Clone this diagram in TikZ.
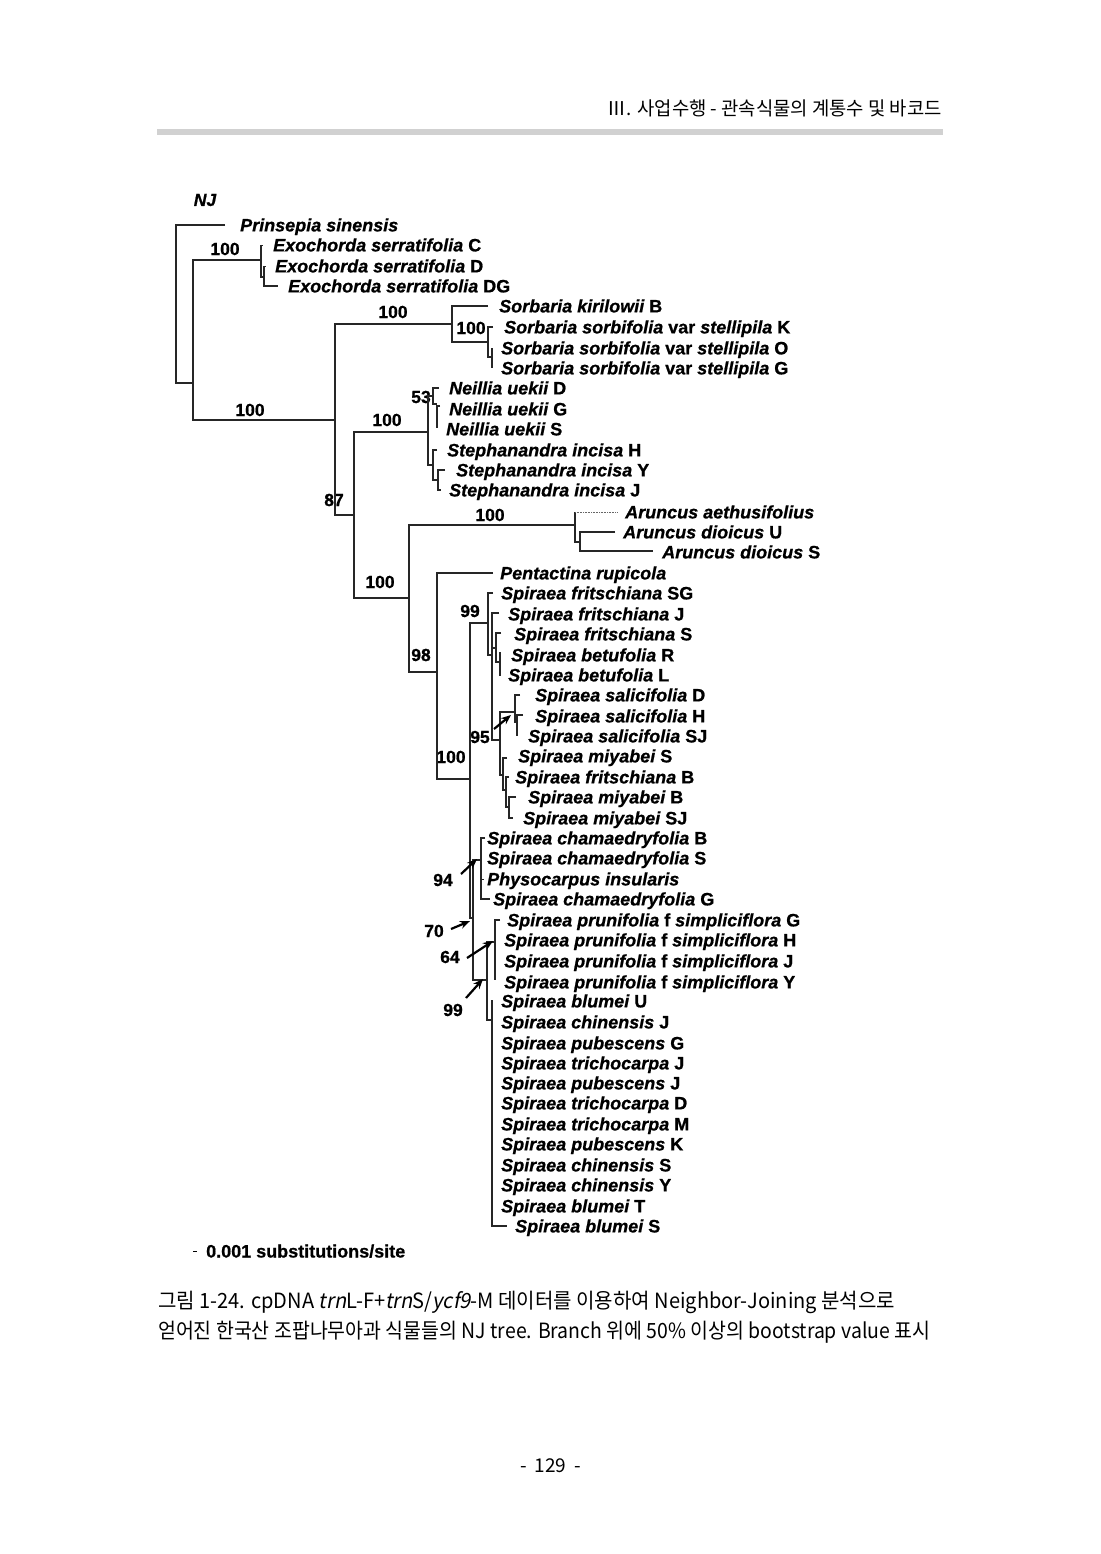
\documentclass[tikz,border=0pt]{standalone}
\usepackage{fontspec}
\usepackage{graphicx}
\setmainfont{Liberation Sans}[BoldFeatures={FakeBold=0.8},BoldItalicFeatures={FakeBold=0.8}]
\newfontfamily\kr{Noto Sans CJK KR}
\newfontfamily\krit{Noto Sans CJK KR}[FakeSlant=0.2]
\usetikzlibrary{arrows.meta}
\newcommand\tip[4]{\node[tipl] (#1) at (#2,#3+6.4) {#4};}
\newcommand\bsv[3]{\node[bsl] at (#1,#2) {#3};}
\newcommand\spn[1]{{\itshape #1}}
\begin{document}
\begin{tikzpicture}[x=1pt,y=-1pt,
  br/.style={line width=1.4pt, black!85},
  tk/.style={line width=0.9pt, black!85},
  arr/.style={line width=2.2pt, -{Stealth[length=10pt,width=8pt]}},
  tipl/.style={anchor=base west, inner sep=0pt, font=\fontsize{18}{18}\selectfont\bfseries},
  bsl/.style={inner sep=0pt, font=\fontsize{17.5}{17.5}\selectfont\bfseries}]
\fill[white] (0,0) rectangle (1100,1554);
\useasboundingbox (0,0) rectangle (1100,1554);
% header
\node[anchor=base east, inner sep=0pt] (hdr) at (942,116) {\resizebox{334pt}{\height}{\kr\fontsize{19}{19}\selectfont Ⅲ. 사업수행 - 관속식물의 계통수 및 바코드}};
\fill[black!18] (157,129) rectangle (943,135);
% NJ
\node[bsl, font=\fontsize{17.5}{17.5}\selectfont\bfseries\itshape] (nj) at (205,200) {NJ};
% tips
\tip{prin}{240}{225}{\spn{Prinsepia sinensis}}
\tip{exoC}{273}{245}{\spn{Exochorda serratifolia} C}
\tip{exoD}{275}{266}{\spn{Exochorda serratifolia} D}
\tip{exoDG}{288}{286}{\spn{Exochorda serratifolia} DG}
\tip{sorB}{499}{306}{\spn{Sorbaria kirilowii} B}
\tip{sorK}{504}{327}{\spn{Sorbaria sorbifolia} var \spn{stellipila} K}
\tip{sorO}{501}{348}{\spn{Sorbaria sorbifolia} var \spn{stellipila} O}
\tip{sorG}{501}{368}{\spn{Sorbaria sorbifolia} var \spn{stellipila} G}
\tip{neiD}{449}{388}{\spn{Neillia uekii} D}
\tip{neiG}{449}{409}{\spn{Neillia uekii} G}
\tip{neiS}{446}{429}{\spn{Neillia uekii} S}
\tip{steH}{447}{450}{\spn{Stephanandra incisa} H}
\tip{steY}{456}{470}{\spn{Stephanandra incisa} Y}
\tip{steJ}{449}{490}{\spn{Stephanandra incisa} J}
\tip{aruA}{625}{512}{\spn{Aruncus aethusifolius}}
\tip{aruU}{623}{532}{\spn{Aruncus dioicus} U}
\tip{aruS}{662}{552}{\spn{Aruncus dioicus} S}
\tip{pen}{500}{573}{\spn{Pentactina rupicola}}
\tip{friSG}{501}{593}{\spn{Spiraea fritschiana} SG}
\tip{friJ}{508}{614}{\spn{Spiraea fritschiana} J}
\tip{friS}{514}{634}{\spn{Spiraea fritschiana} S}
\tip{betR}{511}{655}{\spn{Spiraea betufolia} R}
\tip{betL}{508}{675}{\spn{Spiraea betufolia} L}
\tip{salD}{535}{695}{\spn{Spiraea salicifolia} D}
\tip{salH}{535}{716}{\spn{Spiraea salicifolia} H}
\tip{salSJ}{528}{736}{\spn{Spiraea salicifolia} SJ}
\tip{miyS}{518}{756}{\spn{Spiraea miyabei} S}
\tip{friB}{515}{777}{\spn{Spiraea fritschiana} B}
\tip{miyB}{528}{797}{\spn{Spiraea miyabei} B}
\tip{miySJ}{523}{818}{\spn{Spiraea miyabei} SJ}
\tip{chaB}{487}{838}{\spn{Spiraea chamaedryfolia} B}
\tip{chaS}{487}{858}{\spn{Spiraea chamaedryfolia} S}
\tip{phy}{487}{879}{\spn{Physocarpus insularis}}
\tip{chaG}{493}{899}{\spn{Spiraea chamaedryfolia} G}
\tip{pruG}{507}{920}{\spn{Spiraea prunifolia} f \spn{simpliciflora} G}
\tip{pruH}{504}{940}{\spn{Spiraea prunifolia} f \spn{simpliciflora} H}
\tip{pruJ}{504}{961}{\spn{Spiraea prunifolia} f \spn{simpliciflora} J}
\tip{pruY}{504}{982}{\spn{Spiraea prunifolia} f \spn{simpliciflora} Y}
\tip{bluU}{501}{1001}{\spn{Spiraea blumei} U}
\tip{chiJ}{501}{1022}{\spn{Spiraea chinensis} J}
\tip{pubG}{501}{1043}{\spn{Spiraea pubescens} G}
\tip{triJ}{501}{1063}{\spn{Spiraea trichocarpa} J}
\tip{pubJ}{501}{1083}{\spn{Spiraea pubescens} J}
\tip{triD}{501}{1103}{\spn{Spiraea trichocarpa} D}
\tip{triM}{501}{1124}{\spn{Spiraea trichocarpa} M}
\tip{pubK}{501}{1144}{\spn{Spiraea pubescens} K}
\tip{chiS}{501}{1165}{\spn{Spiraea chinensis} S}
\tip{chiY}{501}{1185}{\spn{Spiraea chinensis} Y}
\tip{bluT}{501}{1206}{\spn{Spiraea blumei} T}
\tip{bluS}{515}{1226}{\spn{Spiraea blumei} S}
% bootstrap values
\bsv{225}{249}{100}
\bsv{250}{410}{100}
\bsv{393}{312}{100}
\bsv{471}{328}{100}
\bsv{387}{420}{100}
\bsv{421}{397}{53}
\bsv{334}{500}{87}
\bsv{490}{515}{100}
\bsv{380}{582}{100}
\bsv{421}{655}{98}
\bsv{470}{611}{99}
\bsv{451}{757}{100}
\bsv{480}{737}{95}
\bsv{443}{880}{94}
\bsv{434}{931}{70}
\bsv{450}{957}{64}
\bsv{453}{1010}{99}
% branches
\draw[br] (225,225) -- (176,225) -- (176,383) -- (193,383);
\draw[br] (261,260) -- (193,260) -- (193,420) -- (335,420);
\draw[br] (261,245) -- (261,277) -- (264,277);
\draw[tk] (261,245) -- (263,245);
\draw[br] (264,266) -- (264,286) -- (278,286);
\draw[tk] (264,266) -- (266,266);
\draw[br] (452,324) -- (335,324) -- (335,515) -- (354,515);
\draw[br] (488,306) -- (452,306) -- (452,342) -- (488,342);
\draw[br] (493,327) -- (488,327) -- (488,357) -- (492,357);
\draw[br] (492,348) -- (492,368);
\draw[br] (428,432) -- (354,432) -- (354,598) -- (409,598);
\draw[br] (433,396) -- (428,396) -- (428,465) -- (433,465);
\draw[br] (439,388) -- (433,388) -- (433,404) -- (437,404);
\draw[br] (440,406) -- (437,406) -- (437,428);
\draw[br] (437,450) -- (433,450) -- (433,480) -- (438,480);
\draw[br] (445,470) -- (438,470) -- (438,490) -- (441,490);
\draw[br] (575,525) -- (409,525) -- (409,672) -- (437,672);
\draw[br] (575,512) -- (575,542) -- (580,542);
\draw[densely dotted, line width=0.6pt, black!60] (575,512) -- (618,512);
\draw[br] (615,532) -- (580,532) -- (580,551) -- (653,551);
\draw[br] (493,573) -- (437,573) -- (437,779) -- (470,779);
\draw[br] (488,623) -- (470,623) -- (470,918) -- (473,918);
% upper Spiraea
\draw[br] (493,593) -- (488,593) -- (488,655) -- (492,655);
\draw[br] (499,613) -- (492,613) -- (492,740) -- (500,740);
\draw[br] (492,648) -- (496,648);
\draw[br] (501,633) -- (496,633) -- (496,662) -- (500,662);
\draw[br] (500,652) -- (500,676);
\draw[br] (503,775) -- (500,775) -- (500,712) -- (515,712);
\draw[br] (520,695) -- (515,695) -- (515,722) -- (517,722);
\draw[br] (523,715) -- (517,715) -- (517,736);
\draw[br] (507,758) -- (503,758) -- (503,790) -- (506,790);
\draw[br] (509,777) -- (506,777) -- (506,807) -- (509,807);
\draw[br] (516,797) -- (509,797) -- (509,818) -- (513,818);
% lower Spiraea
\draw[br] (481,860) -- (473,860) -- (473,980) -- (487,980);
\draw[br] (485,838) -- (481,838) -- (481,899) -- (490,899);
\draw[tk] (481,879) -- (484,879);
\draw[br] (495,942) -- (487,942) -- (487,1020) -- (492,1020);
\draw[line width=1.9pt, black!85] (500,920) -- (495,920) -- (495,980);
\draw[br] (492,1000) -- (492,1226) -- (507,1226);
% arrows
\draw[arr] (494,729) -- (511,715);
\draw[arr] (461,874) -- (477,859);
\draw[arr] (451,929) -- (470,921);
\draw[arr] (467,958) -- (493,941);
\draw[arr] (466,998) -- (483,979);
% scale bar
\draw[line width=1pt] (193,1251) -- (197,1251);
\node[anchor=base west, inner sep=0pt, font=\fontsize{18}{18}\selectfont\bfseries] (scl) at (206,1257.5) {0.001 substitutions/site};
% caption
\node[anchor=base west, inner sep=0pt] (cap1) at (158,1308) {\resizebox{737pt}{\height}{\kr\fontsize{21}{21}\selectfont 그림 1-24. cpDNA {\krit trn}L-F+{\krit trn}S/{\krit ycf9}-M 데이터를 이용하여 Neighbor-Joining 분석으로}};
\node[anchor=base west, inner sep=0pt] (cap2) at (158,1338) {\resizebox{772pt}{\height}{\kr\fontsize{21}{21}\selectfont 얻어진 한국산 조팝나무아과 식물들의 NJ tree. Branch 위에 50\% 이상의 bootstrap value 표시}};
\node[anchor=base, inner sep=0pt, font=\kr\fontsize{19}{19}\selectfont] (pg) at (550.5,1472) {-\hspace{8pt}129\hspace{8pt}-};
\end{tikzpicture}
\end{document}
